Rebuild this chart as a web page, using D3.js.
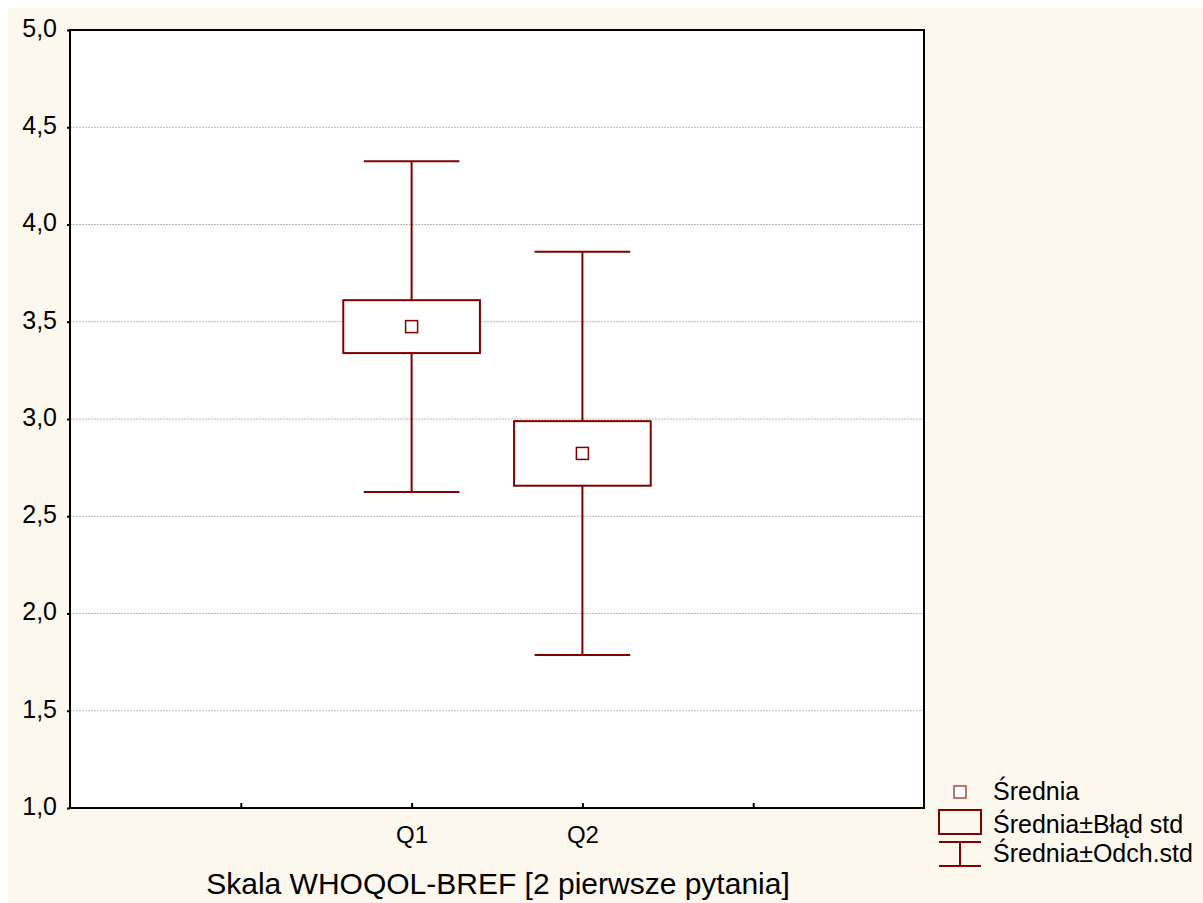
<!DOCTYPE html>
<html>
<head>
<meta charset="utf-8">
<script src="https://cdn.jsdelivr.net/npm/d3@7"></script>
<style>
  html, body { margin: 0; padding: 0; background: #ffffff; }
  svg { display: block; }
  text { font-family: "Liberation Sans", Arial, sans-serif; fill: #000; }
</style>
</head>
<body>
<script>
// Question labels and their summary statistics
const categories = ["Q1", "Q2"];
const means = [3.475, 2.823];
const stdErrors = [0.136, 0.166];
const stdDevs = [0.85, 1.037];

const yTicks = [1.0, 1.5, 2.0, 2.5, 3.0, 3.5, 4.0, 4.5, 5.0];
const xSlots = [1, 2, 3, 4];           // tick positions along the category axis
const categorySlots = [2, 3];          // where Q1, Q2 sit
const legendLabels = ["Średnia", "Średnia±Błąd std", "Średnia±Odch.std"];
const xTitle = "Skala WHOQOL-BREF [2 pierwsze pytania]";

const W = 1203, H = 903;
const plot = { left: 70, top: 30, right: 924, bottom: 808 };
const dark = "#800000";
const FONT = "'Liberation Sans', Arial, sans-serif";

const svg = d3.select("body").append("svg").attr("width", W).attr("height", H);

// cream page panel
svg.append("rect").attr("x", 8).attr("y", 8).attr("width", W - 8).attr("height", H - 8)
  .attr("fill", "#fdf8ee");
svg.append("rect").attr("x", plot.left).attr("y", plot.top)
  .attr("width", plot.right - plot.left).attr("height", plot.bottom - plot.top)
  .attr("fill", "#ffffff");

const y = d3.scaleLinear().domain([1, 5]).range([plot.bottom, plot.top]);
const x = d3.scaleLinear().domain([0, 5]).range([plot.left, plot.right]);
const slot = x(1) - x(0);

// dotted horizontal grid
svg.append("g").selectAll("line").data(yTicks.filter(v => v > 1 && v < 5)).join("line")
  .attr("x1", plot.left).attr("x2", plot.right)
  .attr("y1", d => y(d)).attr("y2", d => y(d))
  .attr("stroke", "#b8b8b8").attr("stroke-width", 1).attr("stroke-dasharray", "2,1");

// y axis
const yAxis = d3.axisLeft(y).tickValues(yTicks).tickSize(3).tickPadding(10)
  .tickFormat(d => d3.format(".1f")(d).replace(".", ","));
const gy = svg.append("g").attr("transform", `translate(${plot.left},0)`).call(yAxis);
gy.select(".domain").remove();
gy.selectAll(".tick line").attr("stroke", "#000").attr("stroke-width", 2);
gy.selectAll(".tick text").style("font-size", "25px").attr("dy", "0.25em")
  .style("font-family", FONT);

// x axis: inward ticks at each slot, labels only for the categories
const labelBySlot = new Map(categorySlots.map((s, i) => [s, categories[i]]));
const xAxis = d3.axisBottom(x).tickValues(xSlots).tickSize(-5).tickPadding(18)
  .tickFormat(d => labelBySlot.get(d) || "");
const gx = svg.append("g").attr("transform", `translate(0,${plot.bottom})`).call(xAxis);
gx.select(".domain").remove();
gx.selectAll(".tick line").attr("stroke", "#000").attr("stroke-width", 2);
gx.selectAll(".tick text").style("font-size", "24px").style("font-family", FONT);

// frame
svg.append("rect").attr("x", plot.left).attr("y", plot.top)
  .attr("width", plot.right - plot.left).attr("height", plot.bottom - plot.top)
  .attr("fill", "none").attr("stroke", "#000").attr("stroke-width", 2);

// box-and-whisker marks
const boxHalf = slot * 0.4;
const capHalf = slot * 0.28;
const data = categories.map((c, i) => ({
  cx: x(categorySlots[i]), mean: means[i], se: stdErrors[i], sd: stdDevs[i]
}));
const g = svg.append("g");
data.forEach(d => {
  const grp = g.append("g").attr("stroke", dark).attr("stroke-width", 2).attr("fill", "none");
  // upper whisker
  grp.append("line").attr("x1", d.cx).attr("x2", d.cx)
    .attr("y1", y(d.mean + d.sd)).attr("y2", y(d.mean + d.se));
  // lower whisker
  grp.append("line").attr("x1", d.cx).attr("x2", d.cx)
    .attr("y1", y(d.mean - d.se)).attr("y2", y(d.mean - d.sd));
  // caps
  [d.mean + d.sd, d.mean - d.sd].forEach(v => {
    grp.append("line").attr("x1", d.cx - capHalf).attr("x2", d.cx + capHalf)
      .attr("y1", y(v)).attr("y2", y(v));
  });
  // standard error box
  grp.append("rect").attr("x", d.cx - boxHalf).attr("width", boxHalf * 2)
    .attr("y", y(d.mean + d.se)).attr("height", y(d.mean - d.se) - y(d.mean + d.se))
    .attr("fill", "#fff");
  // mean marker
  grp.append("rect").attr("x", d.cx - 6).attr("y", y(d.mean) - 6)
    .attr("width", 12).attr("height", 12).attr("fill", "#fff").attr("stroke-width", 1.5);
});

// x axis title
svg.append("text").attr("x", (plot.left + plot.right) / 2 + 1).attr("y", 894)
  .attr("text-anchor", "middle").style("font-size", "30px").text(xTitle);

// legend
const lg = svg.append("g");
const lx = 960;
lg.append("rect").attr("x", lx - 6).attr("y", 786).attr("width", 12).attr("height", 12)
  .attr("fill", "#fff").attr("stroke", dark).attr("stroke-width", 1.5).attr("stroke-opacity", 0.7);
lg.append("rect").attr("x", lx - 21).attr("y", 810).attr("width", 42).attr("height", 24)
  .attr("fill", "none").attr("stroke", dark).attr("stroke-width", 2);
const sym = lg.append("g").attr("stroke", dark).attr("stroke-width", 2);
sym.append("line").attr("x1", lx - 21).attr("x2", lx + 21).attr("y1", 842).attr("y2", 842);
sym.append("line").attr("x1", lx - 21).attr("x2", lx + 21).attr("y1", 866).attr("y2", 866);
sym.append("line").attr("x1", lx).attr("x2", lx).attr("y1", 842).attr("y2", 866);
lg.selectAll("text").data(legendLabels).join("text")
  .attr("x", 993).attr("y", (d, i) => [800, 833, 862][i])
  .style("font-size", "25px").text(d => d);
</script>
</body>
</html>
